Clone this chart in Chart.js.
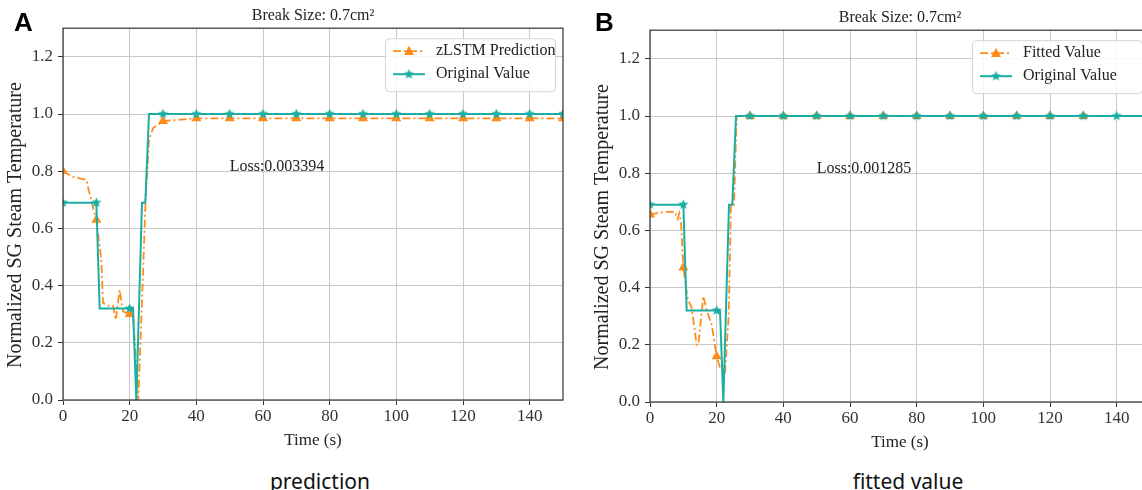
<!DOCTYPE html>
<html><head><meta charset="utf-8">
<script src="https://cdn.jsdelivr.net/npm/chart.js@4.4.0/dist/chart.umd.min.js"></script>
<style>
html,body{margin:0;padding:0;background:#fff;overflow:hidden;width:1142px;height:490px;position:relative;}
.panel{position:absolute;width:575px;height:460px;}
.lab{position:absolute;font-family:"Liberation Sans",Arial,sans-serif;font-weight:bold;font-size:26px;line-height:26px;color:#000;}
.cap{position:absolute;font-family:"Noto Sans",sans-serif;font-size:21px;line-height:28px;color:#111;transform:translateX(-50%);white-space:nowrap;}
</style></head><body>
<div class="panel" style="left:0;top:0"><canvas id="c1"></canvas></div>
<div class="panel" style="left:587px;top:2px"><canvas id="c2"></canvas></div>
<div class="lab" style="left:14px;top:9px">A</div>
<div class="lab" style="left:595px;top:9px">B</div>
<div class="cap" style="left:320px;top:467px">prediction</div>
<div class="cap" style="left:908px;top:467px">fitted value</div>
<script>
// ---- data ----
const timeOrig = [0,10,11,20,21,22,23.7,24.7,25.8,30,40,50,60,70,80,90,100,110,120,130,140,150];
const valOrig  = [0.69,0.69,0.32,0.32,0.32,0.0,0.69,0.69,1.0,1.0,1.0,1.0,1.0,1.0,1.0,1.0,1.0,1.0,1.0,1.0,1.0,1.0];

const timePred = [0,3,7,8,9.5,10,11.5,12,13.5,15,15.8,17,18,20,21,22.6,24,24.8,25.3,25.8,27,30,40,50,60,70,80,90,100,110,120,130,140,150];
const valPred  = [0.80,0.78,0.77,0.72,0.65,0.63,0.49,0.34,0.33,0.33,0.28,0.385,0.31,0.30,0.30,0.0,0.44,0.71,0.80,0.91,0.95,0.975,0.985,0.985,0.985,0.985,0.985,0.985,0.985,0.985,0.985,0.985,0.985,0.985];

const timeFit = [0,2,5,7.5,8.3,8.8,9.3,10,11.3,12.5,14,14.5,16,17,18.5,20,21,22.5,23.6,24.3,25.2,26,30,40,50,60,70,80,90,100,110,120,130,139];
const valFit  = [0.655,0.66,0.665,0.665,0.64,0.66,0.63,0.47,0.36,0.33,0.2,0.2,0.37,0.32,0.27,0.16,0.12,0.1,0.3,0.69,0.69,1.0,1.0,1.0,1.0,1.0,1.0,1.0,1.0,1.0,1.0,1.0,1.0,1.0];

const xTicks = [0,20,40,60,80,100,120,140];
const yTicks = [0,0.2,0.4,0.6,0.8,1.0,1.2];
const chartTitle = 'Break Size: 0.7cm\u00B2';
const xTitle = 'Time (s)';
const yTitle = 'Normalized SG Steam Temperature';
const namesA = ['zLSTM Prediction','Original Value'];
const namesB = ['Fitted Value','Original Value'];
const lossA = 'Loss:0.003394';
const lossB = 'Loss:0.001285';

// ---- styles ----
const SERIF = '"Liberation Serif","Times New Roman",serif';
const ORANGE = '#ff8c1a';
const TEAL = '#1aaea3';
const DASH = [8,3,2,3];

function makeStar(color){
  const c = document.createElement('canvas');
  c.width = 11; c.height = 11;
  const g = c.getContext('2d');
  g.fillStyle = color;
  g.beginPath();
  for (let i=0;i<10;i++){
    const r = i%2===0 ? 5.3 : 2.4;
    const a = -Math.PI/2 + i*Math.PI/5;
    const px = 5.5 + r*Math.cos(a), py = 5.5 + r*Math.sin(a);
    if (i===0) g.moveTo(px,py); else g.lineTo(px,py);
  }
  g.closePath(); g.fill();
  return c;
}
const STAR = makeStar(TEAL);

function pts(t,v){ return t.map((x,i)=>({x:x,y:v[i]})); }
const markEvery = r => ctx => (ctx.raw && ctx.raw.x % 10 === 0 ? r : 0);

function drawTriangle(ctx,x,y,r,color){
  ctx.save();
  ctx.fillStyle = color;
  ctx.beginPath();
  ctx.moveTo(x, y - r*1.1);
  ctx.lineTo(x + r, y + r*0.75);
  ctx.lineTo(x - r, y + r*0.75);
  ctx.closePath(); ctx.fill();
  ctx.restore();
}

const overlay = {
  id:'overlay',
  afterDatasetsDraw(chart, args, opts){
    const {ctx, chartArea:a, scales} = chart;
    ctx.save();
    ctx.strokeStyle = '#333'; ctx.lineWidth = 1.2;
    ctx.strokeRect(a.left, a.top, a.right-a.left, a.bottom-a.top);
    ctx.fillStyle = '#222';
    ctx.font = '16px ' + SERIF;
    ctx.textBaseline = 'alphabetic'; ctx.textAlign = 'left';
    ctx.fillText(opts.loss, scales.x.getPixelForValue(50), scales.y.getPixelForValue(0.8));
    ctx.restore();
  },
  afterDraw(chart, args, opts){
    const {ctx, chartArea:a} = chart;
    // rotated y-axis title
    ctx.save();
    ctx.translate(a.left - 47, (a.top + a.bottom)/2 + 11);
    ctx.rotate(-Math.PI/2);
    ctx.fillStyle = '#222';
    ctx.font = '20px ' + SERIF;
    ctx.textAlign = 'center'; ctx.textBaseline = 'middle';
    ctx.fillText(opts.yTitle, 0, 0);
    ctx.restore();
    // legend
    const w = 170, h = 53;
    const bx = a.right - 8 - w, by = a.top + 10;
    ctx.save();
    ctx.fillStyle = 'rgba(255,255,255,0.85)';
    ctx.strokeStyle = '#d4d4d4'; ctx.lineWidth = 1;
    ctx.beginPath();
    if (ctx.roundRect) ctx.roundRect(bx+0.5, by+0.5, w, h, 4); else ctx.rect(bx+0.5,by+0.5,w,h);
    ctx.fill(); ctx.stroke();
    const rows = [by+13, by+36];
    ctx.strokeStyle = ORANGE; ctx.lineWidth = 1.8; ctx.setLineDash(DASH);
    ctx.beginPath(); ctx.moveTo(bx+8, rows[0]); ctx.lineTo(bx+40, rows[0]); ctx.stroke();
    ctx.setLineDash([]);
    drawTriangle(ctx, bx+24, rows[0], 5, ORANGE);
    ctx.strokeStyle = TEAL; ctx.lineWidth = 2;
    ctx.beginPath(); ctx.moveTo(bx+8, rows[1]); ctx.lineTo(bx+40, rows[1]); ctx.stroke();
    ctx.drawImage(STAR, bx+24-5.5, rows[1]-5.5);
    ctx.fillStyle = '#222';
    ctx.font = '16px ' + SERIF;
    ctx.textBaseline = 'middle'; ctx.textAlign = 'left';
    ctx.fillText(opts.names[0], bx+51, rows[0]);
    ctx.fillText(opts.names[1], bx+51, rows[1]);
    ctx.restore();
  }
};

function makeChart(id, tA, vA, names, loss){
  return new Chart(document.getElementById(id), {
    type:'line',
    data:{
      datasets:[
        {
          label: names[1],
          data: pts(timeOrig, valOrig),
          borderColor: TEAL, backgroundColor: TEAL,
          borderWidth: 2, tension: 0,
          pointStyle: STAR,
          pointRadius: markEvery(4), pointHoverRadius: 0
        },
        {
          label: names[0],
          data: pts(tA, vA),
          borderColor: ORANGE, backgroundColor: ORANGE,
          borderWidth: 1.8, borderDash: DASH, tension: 0,
          pointStyle: 'triangle', pointBorderWidth: 0,
          pointRadius: markEvery(5.8), pointHoverRadius: 0
        }
      ]
    },
    options:{
      responsive:true, maintainAspectRatio:false, animation:false,
      layout:{padding:{left:4, top:2, right:12, bottom:8}},
      events:[],
      plugins:{
        legend:{display:false},
        tooltip:{enabled:false},
        title:{display:true, fullSize:false, text:chartTitle, color:'#222',
               font:{family:SERIF, size:16, weight:'normal'}, padding:{top:4,bottom:3}},
        overlay:{names:names, loss:loss, yTitle:yTitle}
      },
      scales:{
        x:{
          type:'linear', min:0, max:150,
          afterFit(s){ s.height = 52; },
          afterBuildTicks(s){ s.ticks = xTicks.map(v=>({value:v})); },
          ticks:{color:'#333', font:{family:SERIF, size:17}, padding:1, maxRotation:0},
          grid:{color:'#c8c8c8', lineWidth:1, tickColor:'#333', tickLength:5},
          border:{display:false},
          title:{display:true, text:xTitle, color:'#222', font:{family:SERIF, size:17}, padding:{top:0,bottom:1}}
        },
        y:{
          min:0, max:1.3,
          afterFit(s){ s.width = 59; },
          afterBuildTicks(s){ s.ticks = yTicks.map(v=>({value:v})); },
          ticks:{color:'#333', font:{family:SERIF, size:17}, padding:5, callback:v=>Number(v).toFixed(1)},
          grid:{color:'#c8c8c8', lineWidth:1, tickColor:'#333', tickLength:5},
          border:{display:false},
          title:{display:false}
        }
      }
    },
    plugins:[overlay]
  });
}

makeChart('c1', timePred, valPred, namesA, lossA);
makeChart('c2', timeFit, valFit, namesB, lossB);
</script>
</body></html>
